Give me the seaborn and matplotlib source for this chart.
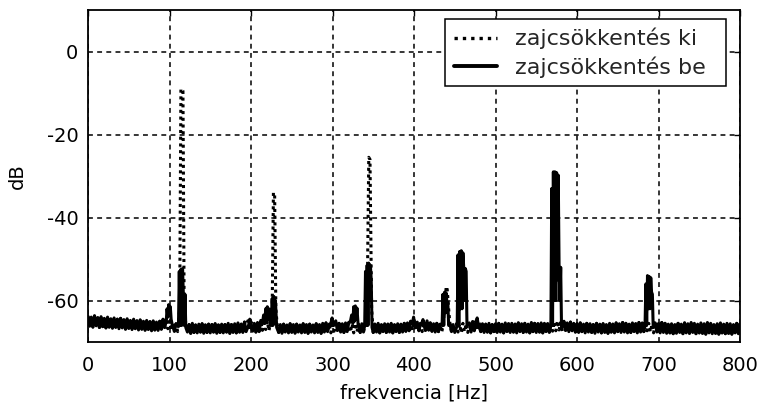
import numpy as np
import pandas as pd
import matplotlib
matplotlib.use("Agg")
import matplotlib.pyplot as plt
import seaborn as sns

# ---------------- data ----------------
floor_step_hz = 4
# upper edge of the noise band, one value every 4 Hz from 0 to 800 Hz
noise_top_db = [
    -63.8, -64.0, -63.7, -64.1, -63.9, -64.3, -64.0, -64.4, -64.2, -64.5,
    -64.3, -64.6, -64.4, -64.8, -64.5, -64.9, -64.7, -65.0, -64.8, -65.1,
    -64.9, -65.2, -65.0, -64.5, -64.2, -65.0, -65.4, -65.6, -65.5, -65.7,
    -65.6, -65.8, -65.5, -65.9, -65.7, -65.6, -65.9, -65.7, -65.8, -65.6,
    -65.9, -65.7, -65.8, -65.5, -65.8, -65.6, -65.4, -65.7, -65.2, -64.9,
    -65.1, -65.5, -65.3, -64.8, -64.6, -65.0, -65.3, -65.7, -65.6, -65.8,
    -65.7, -65.9, -65.6, -65.8, -65.7, -65.9, -65.6, -65.8, -65.7, -65.9,
    -65.6, -65.8, -65.5, -65.4, -65.7, -65.2, -64.9, -65.5, -65.6, -65.4,
    -65.3, -65.6, -65.5, -65.7, -65.6, -65.5, -65.8, -65.6, -65.7, -65.5,
    -65.8, -65.6, -65.7, -65.5, -65.8, -65.6, -65.7, -65.5, -65.4, -65.0,
    -64.7, -65.2, -65.5, -65.0, -64.9, -65.4, -65.6, -65.5, -65.7, -65.6,
    -65.7, -65.5, -65.8, -65.6, -65.7, -65.5, -65.6, -65.4, -65.1, -64.9,
    -65.3, -65.6, -65.7, -65.5, -65.8, -65.6, -65.5, -65.7, -65.4, -65.6,
    -65.5, -65.7, -65.4, -65.6, -65.5, -65.7, -65.3, -65.5, -65.6, -65.4,
    -65.5, -65.6, -65.3, -65.1, -64.9, -65.3, -65.0, -65.4, -65.2, -65.5,
    -65.6, -65.4, -65.7, -65.5, -65.6, -65.8, -65.5, -65.7, -65.6, -65.8,
    -65.5, -65.7, -65.4, -65.6, -65.3, -65.5, -65.7, -65.4, -65.6, -65.3,
    -65.4, -65.1, -65.5, -65.7, -65.4, -65.6, -65.3, -65.5, -65.7, -65.6,
    -65.8, -65.5, -65.7, -65.4, -65.6, -65.3, -65.5, -65.7, -65.4, -65.6,
    -65.3, -65.5, -65.8, -65.6, -65.4, -65.7, -65.5, -65.6, -65.8, -65.5,
    -65.6,
]
# lower edge of the noise band, 2 Hz after each upper-edge sample
noise_bottom_db = [
    -66.2, -66.4, -66.1, -66.5, -66.3, -66.6, -66.4, -66.7, -66.5, -66.8,
    -66.6, -66.9, -66.7, -67.0, -66.8, -67.1, -66.9, -67.2, -67.0, -67.3,
    -67.1, -67.2, -66.9, -66.5, -66.8, -67.2, -67.4, -67.5, -67.6, -67.8,
    -67.6, -67.9, -67.7, -67.8, -67.6, -67.9, -67.7, -67.8, -67.6, -67.9,
    -67.7, -67.8, -67.6, -67.9, -67.7, -67.8, -67.6, -67.7, -67.5, -67.3,
    -67.4, -67.6, -67.5, -67.2, -67.0, -67.3, -67.6, -67.8, -67.7, -67.9,
    -67.6, -67.8, -67.7, -67.9, -67.6, -67.8, -67.7, -67.9, -67.6, -67.8,
    -67.7, -67.9, -67.6, -67.5, -67.8, -67.4, -67.2, -67.6, -67.7, -67.5,
    -67.6, -67.8, -67.5, -67.7, -67.6, -67.8, -67.5, -67.7, -67.6, -67.8,
    -67.5, -67.7, -67.6, -67.8, -67.5, -67.7, -67.6, -67.4, -67.3, -67.2,
    -67.0, -67.3, -67.5, -67.2, -67.1, -67.4, -67.6, -67.5, -67.7, -67.6,
    -67.8, -67.5, -67.7, -67.6, -67.8, -67.5, -67.7, -67.6, -67.3, -67.2,
    -67.5, -67.7, -67.6, -67.8, -67.5, -67.7, -67.6, -67.8, -67.5, -67.7,
    -67.6, -67.8, -67.5, -67.7, -67.6, -67.8, -67.5, -67.7, -67.6, -67.8,
    -67.5, -67.7, -67.4, -67.3, -67.1, -67.4, -67.2, -67.5, -67.3, -67.6,
    -67.7, -67.5, -67.8, -67.6, -67.7, -67.9, -67.6, -67.8, -67.7, -67.9,
    -67.6, -67.8, -67.5, -67.7, -67.6, -67.8, -67.7, -67.5, -67.8, -67.6,
    -67.5, -67.3, -67.6, -67.8, -67.6, -67.8, -67.7, -67.9, -67.8, -68.0,
    -67.9, -67.7, -68.0, -67.8, -67.9, -67.7, -68.0, -67.8, -67.9, -68.1,
    -67.8, -68.0, -67.9, -68.1, -67.8, -68.0, -67.9, -68.1, -67.8, -68.0,
    -67.9,
]

# spectral lines with noise reduction switched off (dotted)
off_peak_hz = [112.5, 114, 116.5, 118,
               226, 227.5, 229, 230.5,
               342.5, 344.5, 346, 348,
               437.5, 439.5, 440.5, 442.5]
off_peak_db = [-62, -9, -9.5, -62,
               -62, -34, -34.3, -62,
               -62, -25.5, -26, -62,
               -62, -56.7, -56.7, -62]

# spectral lines with noise reduction switched on (solid)
on_peak_hz = [96, 97, 98, 99, 100, 101, 102, 103.5,
              111, 112, 113, 114, 115, 116, 117, 118, 119, 120,
              197, 198.5, 200,
              214, 215.5, 217, 218, 219, 220, 221, 222, 223.5,
              225, 226, 227, 228, 229, 230, 231.5,
              298, 299.5, 301,
              322, 323.5, 325, 326, 327, 328, 329, 330, 331.5,
              339.5, 340.5, 341.5, 342.5, 343.5, 344.5, 345.5, 346.5, 347.5, 348.5,
              398, 399.5, 401,
              409.5, 411, 412.5,
              434.5, 435.5, 436.5, 437.5, 438.5, 439.5, 440.5, 441.5, 442.5,
              453, 454, 455, 456, 457, 458, 459, 460, 461, 462, 463, 464, 465,
              476, 477.5, 479,
              568, 569, 570, 571, 572, 573, 574, 575, 576, 577, 578, 579, 580, 581,
              683.5, 684.5, 685.5, 686.5, 687.5, 688.5, 689.5, 690.5, 691.5, 692.5, 693.5]
on_peak_db = [-65, -62, -64, -61, -63.5, -61.5, -64.5, -66,
              -66, -53, -66, -52.5, -66, -52.3, -58.5, -66, -58.5, -66.5,
              -66, -64.5, -66,
              -65.5, -63.5, -65.5, -62, -65, -61.5, -64.5, -62, -66,
              -66, -59.5, -66, -59, -62, -60, -66.5,
              -65.5, -64.2, -66,
              -65, -63.5, -65.5, -61.5, -65, -61.3, -64.5, -61.8, -66,
              -66, -53, -66, -51.5, -66, -51, -60, -51.5, -55, -66.5,
              -65.5, -64, -66,
              -65.8, -64.6, -66,
              -66, -58.5, -66, -58, -63, -58.2, -61, -60.5, -66,
              -66, -49, -66, -48.2, -62, -48, -62, -48.5, -52, -60, -52.3, -53, -66,
              -65.5, -64.2, -66,
              -66, -33, -66, -29, -60, -29, -60, -29.2, -55, -29.8, -51.5, -60, -52, -66.5,
              -66, -56, -66, -54, -62, -54.2, -62, -54.5, -58, -58.5, -66.5]

series_labels = ["zajcsökkentés ki", "zajcsökkentés be"]
x_ticks = [0, 100, 200, 300, 400, 500, 600, 700, 800]
y_ticks = [-60, -40, -20, 0]


def build_series(peak_hz, peak_db):
    top_hz = np.arange(len(noise_top_db)) * floor_step_hz
    bot_hz = top_hz + floor_step_hz / 2
    floor_hz = np.concatenate([top_hz, bot_hz])
    floor_db = np.concatenate([noise_top_db, noise_bottom_db])
    p_hz = np.asarray(peak_hz, dtype=float)
    keep = np.min(np.abs(floor_hz[:, None] - p_hz[None, :]), axis=1) > 1.0
    df = pd.DataFrame({"f": np.concatenate([floor_hz[keep], p_hz]),
                       "db": np.concatenate([floor_db[keep], peak_db])})
    return df.sort_values("f").reset_index(drop=True)


off_df = build_series(off_peak_hz, off_peak_db)
on_df = build_series(on_peak_hz, on_peak_db)

# ---------------- plot ----------------
sns.set_style("white")
plt.rcParams["font.family"] = ["DejaVu Sans"]
plt.rcParams["axes.unicode_minus"] = False
plt.rcParams["path.simplify"] = False

fig = plt.figure(figsize=(7.59, 4.13), dpi=100)
ax = fig.add_axes([88 / 759, 1 - 342 / 413, (740 - 88) / 759, (342 - 10) / 413])

sns.lineplot(data=off_df, x="f", y="db", ax=ax, color="black", lw=2.2,
             linestyle=(0, (1.0, 1.2)), estimator=None, sort=False,
             label=series_labels[0])
sns.lineplot(data=on_df, x="f", y="db", ax=ax, color="black", lw=2.2,
             estimator=None, sort=False, label=series_labels[1])

ax.set_xlim(0, 800)
ax.set_ylim(-70, 10)
ax.set_xticks(x_ticks)
ax.set_yticks(y_ticks)
ax.grid(True, color="black", lw=1.1, linestyle=(0, (3.2, 2.8)))
ax.set_axisbelow(True)
for s in ax.spines.values():
    s.set_color("black")
    s.set_linewidth(1.3)
ax.tick_params(direction="in", length=4, width=1, top=True, right=True,
               labelsize=14, colors="black")
ax.tick_params(axis="x", pad=10)
ax.tick_params(axis="y", pad=7)
ax.set_xlabel("frekvencia [Hz]", fontsize=14, color="black")
ax.set_ylabel("dB", fontsize=14, color="black")
ax.xaxis.set_label_coords(0.5, -0.125)
ax.yaxis.set_label_coords(-0.093, 0.5)

leg = ax.legend(loc="upper right",
                bbox_to_anchor=((445 - 88) / 652, 0.0, 281 / 652, 0.973),
                mode="expand",
                borderaxespad=0, fontsize=16, frameon=True, fancybox=False,
                framealpha=1, edgecolor="black", handlelength=1.95,
                handletextpad=0.8, labelspacing=0.3, borderpad=0.4)
leg.get_frame().set_linewidth(1.1)
leg_lines = leg.get_lines()
leg_lines[0].set_linewidth(2.4)
leg_lines[0].set_linestyle((0, (1.0, 1.5)))
leg_lines[1].set_linewidth(2.8)

fig.savefig("out.png", dpi=100, facecolor="white")
